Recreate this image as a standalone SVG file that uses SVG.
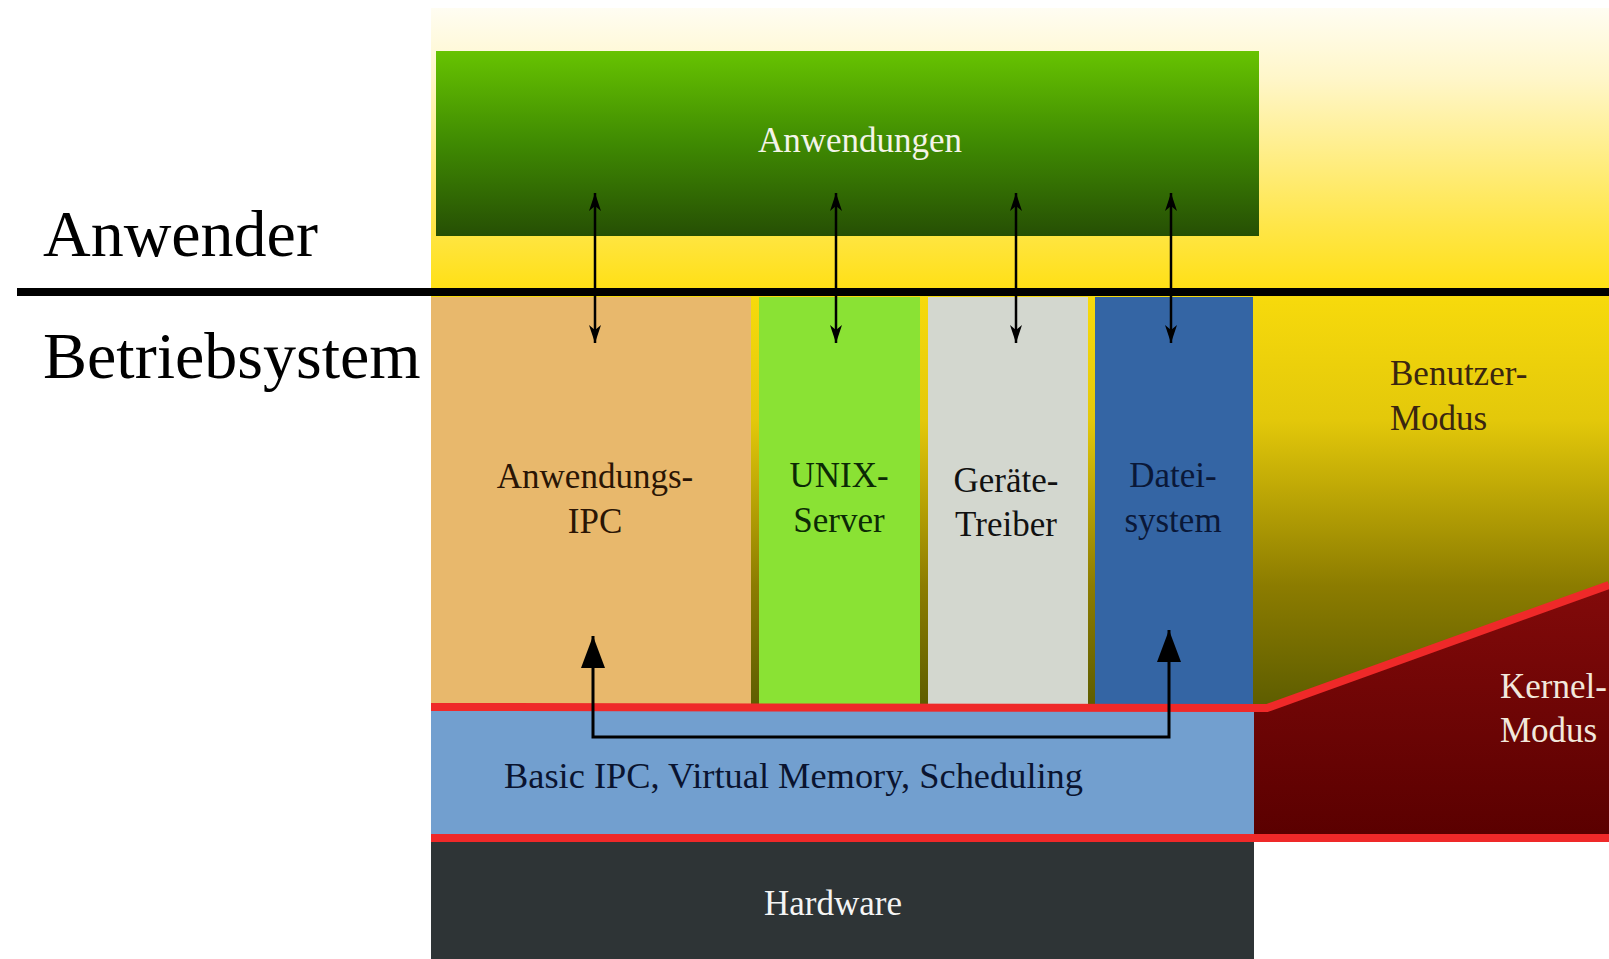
<svg xmlns="http://www.w3.org/2000/svg" width="1609" height="959" viewBox="0 0 1609 959">
<defs>
<linearGradient id="bgTop" x1="0" y1="0" x2="0" y2="1">
<stop offset="0" stop-color="#fffdf2"/>
<stop offset="0.25" stop-color="#fff6c8"/>
<stop offset="0.75" stop-color="#ffe64a"/>
<stop offset="1" stop-color="#ffdf10"/>
</linearGradient>
<linearGradient id="bgLow" x1="0" y1="0" x2="0" y2="1">
<stop offset="0" stop-color="#f7da0c"/>
<stop offset="0.3" stop-color="#e3c80a"/>
<stop offset="0.7" stop-color="#8c7c00"/>
<stop offset="1" stop-color="#5c5c00"/>
</linearGradient>
<linearGradient id="green" x1="0" y1="0" x2="0" y2="1">
<stop offset="0" stop-color="#67c301"/>
<stop offset="0.5" stop-color="#3f8a02"/>
<stop offset="1" stop-color="#264f04"/>
</linearGradient>
<linearGradient id="kern" x1="0" y1="0" x2="0" y2="1">
<stop offset="0" stop-color="#820a0a"/>
<stop offset="1" stop-color="#5a0000"/>
</linearGradient>
<marker id="hs" viewBox="0 0 18 12" refX="18" refY="6" markerWidth="18" markerHeight="12" markerUnits="userSpaceOnUse" orient="auto-start-reverse">
<path d="M0,0 L18,6 L0,12 L5,6 Z" fill="#000"/>
</marker>
<marker id="hb" viewBox="0 0 32 24" refX="32" refY="12" markerWidth="33" markerHeight="24" markerUnits="userSpaceOnUse" orient="auto-start-reverse">
<path d="M0,0 L32,12 L0,24 Z" fill="#000"/>
</marker>
<style>
.t{font-family:"Liberation Serif","Times New Roman",serif;}
.big{font-size:66px;fill:#000;}
.lbl{font-size:35px;text-anchor:middle;}
.ln{stroke:#000;fill:none;}
</style>
</defs>

<g id="background">
<rect x="431" y="8" width="1178" height="288" fill="url(#bgTop)"/>
<rect x="431" y="296" width="1178" height="414" fill="url(#bgLow)"/>
</g>

<g id="anwendungen">
<rect x="436" y="51" width="823" height="185" fill="url(#green)"/>
<text class="t lbl" x="860" y="152" fill="#f4f4e8">Anwendungen</text>
</g>

<g id="anwendungs-ipc">
<rect x="431" y="297" width="320" height="409" fill="#e8b86c"/>
<text class="t lbl" x="595" y="488" fill="#2a1505">Anwendungs-</text>
<text class="t lbl" x="595" y="533" fill="#2a1505">IPC</text>
</g>

<g id="unix-server">
<rect x="759" y="297" width="161" height="409" fill="#8ae234"/>
<text class="t lbl" x="839" y="487" fill="#0c2a05">UNIX-</text>
<text class="t lbl" x="839" y="532" fill="#0c2a05">Server</text>
</g>

<g id="geraete-treiber">
<rect x="928" y="297" width="160" height="409" fill="#d3d7cf"/>
<text class="t lbl" x="1006" y="492" fill="#111">Geräte-</text>
<text class="t lbl" x="1006" y="536" fill="#111">Treiber</text>
</g>

<g id="dateisystem">
<rect x="1095" y="297" width="158" height="409" fill="#3465a4"/>
<text class="t lbl" x="1173" y="487" fill="#0a1838">Datei-</text>
<text class="t lbl" x="1173" y="532" fill="#0a1838">system</text>
</g>

<g id="benutzer-modus">
<text class="t" x="1390" y="385" font-size="35" fill="#3a2610">Benutzer-</text>
<text class="t" x="1390" y="430" font-size="35" fill="#3a2610">Modus</text>
</g>

<g id="kernel-modus">
<polygon points="1253,708 1267,708 1609,585 1609,838 1253,838" fill="url(#kern)"/>
<text class="t" x="1500" y="698" font-size="35" fill="#f2e8dc">Kernel-</text>
<text class="t" x="1500" y="742" font-size="35" fill="#f2e8dc">Modus</text>
</g>

<g id="basic-ipc">
<rect x="431" y="710" width="823" height="128" fill="#729fcf"/>
<text class="t" x="504" y="788" font-size="36.4" fill="#0a1430">Basic IPC, Virtual Memory, Scheduling</text>
</g>

<g id="hardware">
<rect x="431" y="842" width="823" height="117" fill="#2e3436"/>
<text class="t lbl" x="833" y="915" fill="#f4f4f4">Hardware</text>
</g>

<g id="anwender-label">
<text class="t big" x="43" y="256">Anwender</text>
</g>
<g id="betriebsystem-label">
<text class="t big" x="43" y="378">Betriebsystem</text>
</g>

<g id="connectors">
<line x1="17" y1="292" x2="1609" y2="292" stroke="#000" stroke-width="8"/>
<polyline points="431,707 1267,708 1609,585" fill="none" stroke="#ef2929" stroke-width="8" stroke-linejoin="round"/>
<line x1="431" y1="838" x2="1609" y2="838" stroke="#ef2929" stroke-width="8"/>
<line class="ln" x1="595" y1="193" x2="595" y2="343" stroke-width="2.5" marker-start="url(#hs)" marker-end="url(#hs)"/>
<line class="ln" x1="836" y1="193" x2="836" y2="343" stroke-width="2.5" marker-start="url(#hs)" marker-end="url(#hs)"/>
<line class="ln" x1="1016" y1="193" x2="1016" y2="343" stroke-width="2.5" marker-start="url(#hs)" marker-end="url(#hs)"/>
<line class="ln" x1="1171" y1="193" x2="1171" y2="343" stroke-width="2.5" marker-start="url(#hs)" marker-end="url(#hs)"/>
<polyline class="ln" points="593,636 593,737 1169,737 1169,630" stroke-width="3" marker-start="url(#hb)" marker-end="url(#hb)"/>
</g>
</svg>
